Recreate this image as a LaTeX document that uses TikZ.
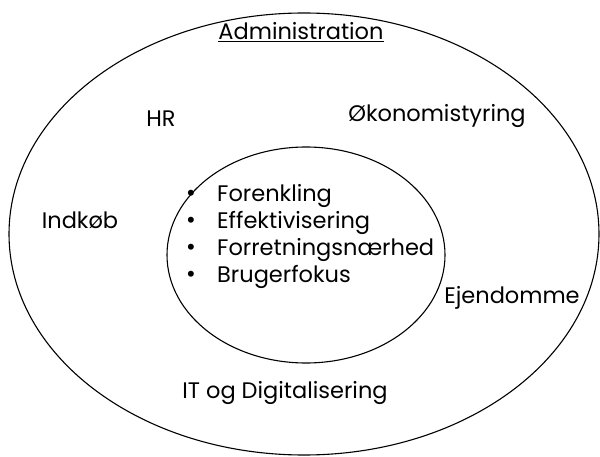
\documentclass[tikz,border=0pt]{standalone}
\usepackage{fontspec}
\setmainfont{Poppins}
\newfontfamily\bulfont{Liberation Sans}
\usetikzlibrary{shapes.geometric}
\begin{document}
\begin{tikzpicture}[x=1pt,y=-1pt,
  ring/.style={draw=black,line width=1.1pt},
  lbl/.style={font=\fontsize{22.5}{27}\selectfont,inner sep=0pt,anchor=base},
  bul/.style={font=\bulfont\fontsize{22}{22}\selectfont,inner sep=0pt}]
\useasboundingbox (0,0) rectangle (600,457);
\node[ring,ellipse,minimum width=590pt,minimum height=442pt,inner sep=0pt] (outer) at (304,234) {};
\node[ring,ellipse,minimum width=278pt,minimum height=216pt,inner sep=0pt] (inner) at (306,255) {};
\node[lbl] (admin) at (301,40) {\underline{Administration}};
\node[lbl] (hr) at (161,127) {HR};
\node[lbl] (oko) at (437,122) {Økonomistyring};
\node[lbl] (ind) at (80,229) {Indkøb};
\node[lbl] (ejd) at (512,303) {Ejendomme};
\node[lbl] (it) at (285,398) {IT og Digitalisering};
\node[lbl,anchor=base west] (b1) at (217,202) {Forenkling};
\node[lbl,anchor=base west] (b2) at (217,229) {Effektivisering};
\node[lbl,anchor=base west] (b3) at (217,256) {Forretningsnærhed};
\node[lbl,anchor=base west] (b4) at (217,283) {Brugerfokus};
\foreach \n in {b1,b2,b3,b4}
  \node[bul] at ([xshift=-26pt,yshift=7pt]\n.base west) {•};
\end{tikzpicture}
\end{document}
